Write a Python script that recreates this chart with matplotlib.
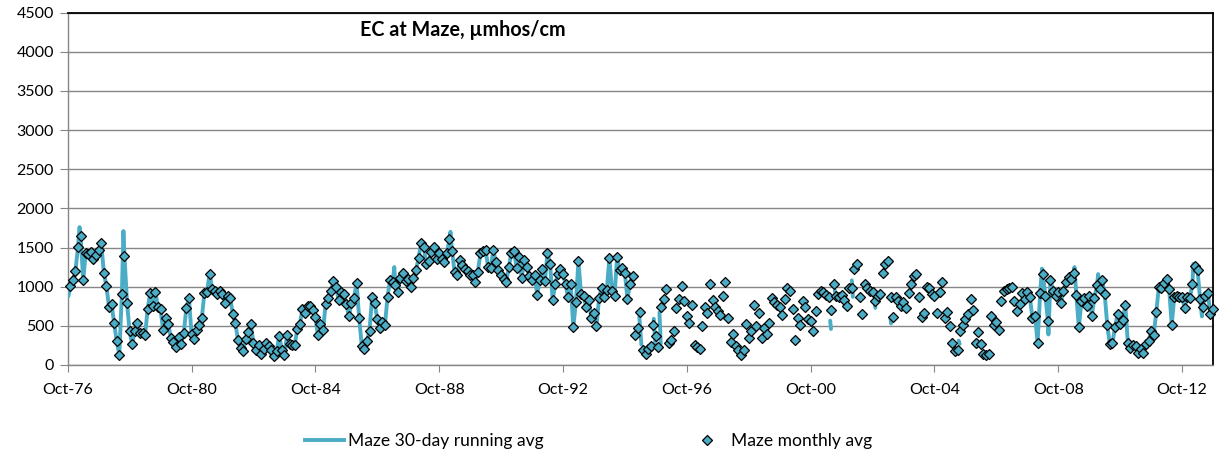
import matplotlib
matplotlib.use("Agg")
import matplotlib.pyplot as plt
import numpy as np
from matplotlib.lines import Line2D

plt.rcParams['font.family'] = ['Lato', 'DejaVu Sans']

# ---------------- data ----------------
title = "EC at Maze, \u00b5mhos/cm"
series_line_name = "Maze 30-day running avg"
series_marker_name = "Maze monthly avg"

# x unit: months after 1-Oct-1976; monthly averages plotted at month end (1..444)
x_tick_labels = ['Oct-76', 'Oct-80', 'Oct-84', 'Oct-88', 'Oct-92', 'Oct-96',
                 'Oct-00', 'Oct-04', 'Oct-08', 'Oct-12']
y_ticks = [0, 500, 1000, 1500, 2000, 2500, 3000, 3500, 4000, 4500]

# Maze monthly average EC (Oct-1976 ... Sep-2013)
monthly_ec = [
    1011, 1079, 1199, 1508, 1645, 1088, 1430, 1413, 1443, 1353, 1400, 1465,
    1563, 1178, 1011, 745, 780, 531, 308, 128, 904, 1396, 797, 428,
    266, 437, 540, 403, 407, 377, 720, 921, 754, 934, 737, 711,
    441, 595, 523, 347, 291, 231, 355, 270, 403, 732, 852, 398,
    338, 450, 514, 604, 925, 934, 1161, 972, 951, 908, 947, 908,
    797, 887, 861, 647, 535, 325, 214, 176, 334, 415, 518, 278,
    193, 261, 146, 201, 278, 244, 193, 111, 180, 373, 193, 124,
    377, 274, 253, 257, 458, 518, 715, 660, 750, 758, 698, 608,
    381, 527, 445, 780, 861, 942, 1071, 1000, 835, 938, 908, 780,
    621, 788, 857, 1045, 595, 244, 201, 308, 437, 865, 792, 587,
    467, 544, 514, 874, 1088, 1054, 1024, 938, 1114, 1174, 1066, 1096,
    994, 1105, 1208, 1362, 1563, 1512, 1293, 1328, 1443, 1508, 1358, 1430,
    1353, 1315, 1430, 1606, 1452, 1186, 1144, 1336, 1272, 1229, 1199, 1144,
    1144, 1058, 1186, 1430, 1452, 1465, 1251, 1242, 1465, 1315, 1216, 1144,
    1096, 1058, 1251, 1430, 1456, 1242, 1379, 1109, 1336, 1251, 1135, 1079,
    1144, 899, 1079, 1229, 1066, 1435, 1293, 831, 1028, 1156, 1229, 1165,
    1028, 865, 1036, 480, 801, 1328, 908, 887, 737, 831, 600, 660,
    501, 857, 985, 874, 959, 1366, 951, 887, 1379, 1208, 1242, 1174,
    840, 1036, 1135, 385, 467, 681, 193, 141, 201, 244, 514, 373,
    231, 745, 844, 964, 278, 321, 428, 724, 848, 1011, 822, 630,
    535, 767, 257, 236, 201, 501, 737, 660, 1028, 827, 737, 694,
    638, 887, 1058, 600, 300, 394, 244, 193, 128, 188, 523, 351,
    437, 771, 501, 660, 351, 467, 394, 531, 852, 801, 771, 737,
    638, 844, 985, 942, 715, 325, 600, 514, 822, 737, 587, 565,
    428, 685, 908, 951, 929, 899, 874, 707, 1036, 887, 874, 895,
    831, 758, 985, 985, 1229, 1293, 865, 651, 1028, 985, 951, 938,
    814, 887, 908, 1174, 1293, 1323, 865, 617, 865, 814, 758, 801,
    728, 917, 1036, 1131, 1165, 865, 608, 660, 1002, 985, 908, 887,
    660, 938, 1058, 600, 672, 501, 278, 180, 193, 428, 514, 591,
    651, 844, 707, 278, 415, 274, 146, 128, 137, 630, 514, 544,
    450, 822, 951, 972, 985, 1002, 814, 694, 780, 917, 844, 929,
    865, 600, 630, 287, 921, 1165, 887, 565, 1088, 951, 887, 929,
    792, 942, 1058, 1122, 1101, 1174, 895, 480, 814, 857, 758, 887,
    630, 852, 1015, 972, 1088, 908, 514, 266, 278, 480, 651, 523,
    574, 767, 278, 223, 257, 244, 158, 201, 158, 266, 308, 428,
    385, 672, 994, 985, 1045, 1101, 972, 514, 874, 887, 865, 865,
    728, 874, 857, 1028, 1259, 1208, 844, 745, 887, 917, 651, 715,
]

# 30-day running average: periods with continuous daily record (month positions)
running_avg_periods = [(1, 219), (372, 444)]
# additional running-average peaks/dips read between monthly points
running_avg_extra_pos = [0.3, 4.6, 21.6, 126.6, 148.4, 377.7, 380.2, 390.3, 399.5, 436.4, 439.7]
running_avg_extra_val = [880, 1760, 1710, 1250, 1700, 1230, 390, 1250, 1160, 1290, 620]
# short isolated running-average fragments in the sparse-record years
running_avg_fragments = [
    ([221.6, 222.4], [620, 260]),
    ([227.2, 227.8], [590, 270]),
    ([229.4, 229.9], [670, 270]),
    ([295.6, 295.9], [565, 460]),
    ([297.4, 297.6], [950, 910]),
    ([304.0, 304.4], [1080, 870]),
    ([312.9, 313.1], [780, 730]),
    ([319.0, 319.2], [590, 530]),
    ([345.4, 345.8], [310, 270]),
]

# ---------------- build series ----------------
monthly_ec = np.array(monthly_ec, dtype=float)
month_pos = np.arange(1, len(monthly_ec) + 1)

lx, ly = [], []
for a, b in running_avg_periods:
    pts = [(float(m), monthly_ec[m - 1]) for m in range(a, b + 1)]
    pts += [(p, v) for p, v in zip(running_avg_extra_pos, running_avg_extra_val) if a - 1 <= p <= b + 0.5]
    pts.sort()
    lx += [p for p, _ in pts] + [np.nan]
    ly += [v for _, v in pts] + [np.nan]
for fx, fy in running_avg_fragments:
    lx += list(fx) + [np.nan]
    ly += list(fy) + [np.nan]

# ---------------- figure ----------------
W, H = 1221, 455
fig = plt.figure(figsize=(W / 100, H / 100), dpi=100)
left, right, top, bottom = 67.7, 1213, 12.5, 365
ax = fig.add_axes([left / W, 1 - bottom / H, (right - left) / W, (bottom - top) / H])

color = '#4BACC6'
grid_c = '#868686'

ax.plot(lx, ly, color=color, lw=2.8, solid_capstyle='round', solid_joinstyle='round', zorder=3)
ax.plot(month_pos, monthly_ec, ls='none', marker='D', ms=4.6, mfc=color, mec='black', mew=0.9,
        zorder=4, clip_on=False)

ax.set_xlim(0, 444)
ax.set_ylim(0, 4500)
ax.set_yticks(y_ticks)
ax.set_yticklabels([str(v) for v in y_ticks])
ax.set_xticks(np.arange(len(x_tick_labels)) * 48)
ax.set_xticklabels(x_tick_labels)

ax.yaxis.grid(True, color=grid_c, lw=1.0)
ax.set_axisbelow(True)
for s in ['left', 'bottom']:
    ax.spines[s].set_color(grid_c)
    ax.spines[s].set_linewidth(1.0)
for s in ['top', 'right']:
    ax.spines[s].set_color('black')
    ax.spines[s].set_linewidth(1.3)
ax.tick_params(axis='y', direction='out', length=6, color=grid_c, labelsize=11.5, pad=4)
ax.tick_params(axis='x', direction='out', length=5, color=grid_c, labelsize=11.5, pad=8)

fig.text(463 / W, 1 - 30 / H, title, ha='center', va='center', fontsize=14.2, fontweight='bold')

lh = Line2D([], [], color=color, lw=2.8)
mh = Line2D([], [], ls='none', marker='D', ms=4.6, mfc=color, mec='black', mew=0.9)
ly_pos = 1 - 441 / H
leg1 = fig.legend([lh], [series_line_name], loc='center left', bbox_to_anchor=(305 / W, ly_pos),
                  frameon=False, fontsize=12.6, handlelength=2.2, handletextpad=0.25,
                  borderpad=0, borderaxespad=0)
leg2 = fig.legend([mh], [series_marker_name], loc='center left', bbox_to_anchor=(688 / W, ly_pos),
                  frameon=False, fontsize=12.6, handlelength=2.2, handletextpad=0.25,
                  borderpad=0, borderaxespad=0)

fig.savefig('out.png', dpi=100)
